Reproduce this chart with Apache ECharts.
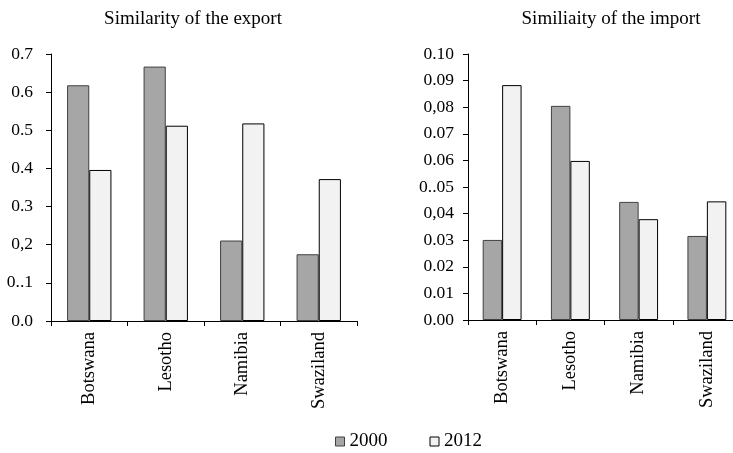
<!DOCTYPE html>
<html>
<head>
<meta charset="utf-8">
<script src="https://cdn.jsdelivr.net/npm/echarts@6/dist/echarts.min.js"></script>
<style>
  html, body { margin: 0; padding: 0; background: #fff; overflow: hidden; }
  #chart { width: 745px; height: 453px; }
</style>
</head>
<body>
<div id="chart"></div>
<script>
const countries = ['Botswana', 'Lesotho', 'Namibia', 'Swaziland'];
const export2000 = [0.618, 0.667, 0.211, 0.175];
const export2012 = [0.396, 0.512, 0.518, 0.372];
const import2000 = [0.0301, 0.0805, 0.0444, 0.0316];
const import2012 = [0.0883, 0.0598, 0.0379, 0.0446];
const exportTicks = ['0.0', '0..1', '0,2', '0.3', '0.4', '0.5', '0.6', '0.7'];
const importTicks = ['0.00', '0.01', '0.02', '0.03', '0,04', '0..05', '0.06', '0.07', '0,08', '0.09', '0.10'];

const font = 'Liberation Serif';
const txt = { color: '#000', fontFamily: font };

function catAxis(idx) {
  return {
    type: 'category', gridIndex: idx, data: countries,
    axisLine: { lineStyle: { color: '#000', width: 1 } },
    axisTick: { show: true, length: 5, lineStyle: { color: '#000' } },
    axisLabel: Object.assign({ rotate: 90, margin: 11, fontSize: 18.5 }, txt)
  };
}
function valAxis(idx, max, step, ticks, gap) {
  return {
    type: 'value', gridIndex: idx, min: 0, max: max, interval: step,
    axisLine: { show: true, lineStyle: { color: '#000', width: 1 } },
    axisTick: { show: true, length: 5, lineStyle: { color: '#000' } },
    splitLine: { show: false },
    axisLabel: Object.assign({
      margin: gap, fontSize: 17.5,
      formatter: v => ticks[Math.round(v / step)]
    }, txt)
  };
}
const style2000 = { color: '#a6a6a6', borderColor: '#404040', borderWidth: 1 };
const style2012 = { color: '#f2f2f2', borderColor: '#000', borderWidth: 1 };
const titleStyle = { fontFamily: font, fontSize: 19, fontWeight: 'normal', color: '#000' };

let myChart = echarts.init(document.getElementById('chart'));
myChart.setOption({
  animation: false,
  title: [
    { text: 'Similarity of the export', left: 188, top: 5, textAlign: 'center', textStyle: titleStyle },
    { text: 'Similiaity of the import', left: 606, top: 5, textAlign: 'center', textStyle: titleStyle }
  ],
  legend: {
    data: ['2000', '2012'],
    left: 330, top: 427,
    itemWidth: 9, itemHeight: 9, itemGap: 42,
    icon: 'rect',
    itemStyle: { borderWidth: 1 },
    textStyle: Object.assign({ fontSize: 19 }, txt)
  },
  grid: [
    { left: 51, top: 54, width: 306, height: 267 },
    { left: 468, top: 54, width: 273, height: 266 }
  ],
  xAxis: [catAxis(0), catAxis(1)],
  yAxis: [valAxis(0, 0.7, 0.1, exportTicks, 18), valAxis(1, 0.1, 0.01, importTicks, 14)],
  series: [
    { name: '2000', type: 'bar', xAxisIndex: 0, yAxisIndex: 0, data: export2000,
      itemStyle: style2000, barGap: '0%', barCategoryGap: '42%' },
    { name: '2012', type: 'bar', xAxisIndex: 0, yAxisIndex: 0, data: export2012,
      itemStyle: style2012, barGap: '0%', barCategoryGap: '42%' },
    { name: '2000', type: 'bar', xAxisIndex: 1, yAxisIndex: 1, data: import2000,
      itemStyle: style2000, barGap: '0%', barCategoryGap: '43%' },
    { name: '2012', type: 'bar', xAxisIndex: 1, yAxisIndex: 1, data: import2012,
      itemStyle: style2012, barGap: '0%', barCategoryGap: '43%' }
  ]
});
window.addEventListener('resize', () => { myChart.resize(); });
</script>
</body>
</html>
